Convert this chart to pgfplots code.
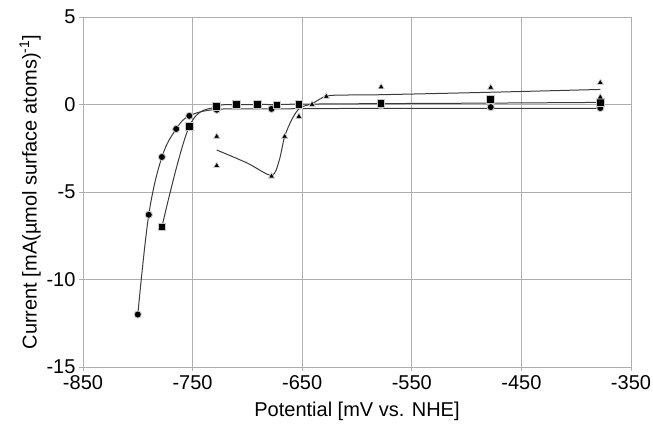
\documentclass[border=0pt]{standalone}
\usepackage{pgfplots}
\pgfplotsset{compat=1.18}
\usepackage{fontspec}
\setmainfont{Liberation Sans}
\definecolor{gridc}{RGB}{175,175,175}
\definecolor{linec}{RGB}{60,60,60}
\begin{document}
\begin{tikzpicture}
\begin{axis}[
  scale only axis, width=548pt, height=350pt,
  xmin=-850, xmax=-350, ymin=-15, ymax=5,
  xtick={-850,-750,-650,-550,-450,-350},
  ytick={-15,-10,-5,0,5},
  grid=major, grid style={gridc, line width=0.8pt},
  axis line style={gridc, line width=0.8pt},
  tick style={gridc, line width=0.8pt},
  tick align=outside, major tick length=4pt,
  xtick pos=bottom, ytick pos=left,
  /pgf/number format/assume math mode=true,
  /pgf/number format/.cd, 1000 sep={}, /pgfplots/.cd,
  ticklabel style={font=\fontsize{20}{22}\selectfont},
  label style={font=\fontsize{20}{22}\selectfont},
  xlabel={Potential [mV vs. NHE]},
  ylabel={Current [mA(µmol surface atoms)\textsuperscript{-1}]},
  xlabel style={yshift=-5pt},
  ylabel style={yshift=-1pt},
  xticklabel style={yshift=-1pt},
  clip=false,
]
% circle series line
\addplot[linec, line width=1pt, smooth, tension=0.6] coordinates {
 (-800,-12) (-790,-6.3) (-778,-3.0) (-765,-1.4) (-753,-0.65) (-728,-0.28) (-678,-0.25) (-578,-0.22) (-478,-0.22) (-378,-0.22)};
% square series line
\addplot[linec, line width=1pt, smooth, tension=0.6] coordinates {
 (-778,-7.0) (-753,-1.25) (-728,-0.12) (-710,-0.02) (-691,0) (-673,0) (-653,0.02) (-578,0.05) (-478,0.08) (-378,0.12)};
% triangle series line
\addplot[linec, line width=1pt, smooth, tension=0.5] coordinates {
 (-728,-2.6) (-700,-3.35) (-678,-4.05) (-671,-3.2) (-666,-1.83) (-659,-0.8) (-652,-0.2) (-641,0.05) (-628,0.48) (-610,0.54) (-578,0.56) (-478,0.7) (-378,0.86)};
% markers
\addplot[only marks, mark=*, mark size=3.6pt, mark options={fill=black, draw=black!22, line width=0.9pt}] coordinates {
 (-800,-12) (-790,-6.3) (-778,-3.0) (-765,-1.4) (-753,-0.65) (-728,-0.3) (-678,-0.25) (-578,-0.05) (-478,-0.15) (-378,-0.2)};
\addplot[only marks, mark=square*, mark size=3.8pt, mark options={fill=black, draw=black!22, line width=0.9pt}] coordinates {
 (-778,-7.0) (-753,-1.25) (-728,-0.1) (-710,0) (-691,0) (-673,-0.03) (-653,0) (-578,0.05) (-478,0.3) (-378,0.12)};
\addplot[only marks, mark=triangle*, mark size=3.6pt, mark options={fill=black, draw=black!18, line width=0.7pt}] coordinates {
 (-728,-1.83) (-728,-3.5) (-678,-4.1) (-666,-1.83) (-653,-0.69) (-641,0) (-628,0.46) (-578,1.0) (-478,0.97) (-378,1.25) (-378,0.42)};
\end{axis}
\pgfresetboundingbox
\path ([shift={(-83pt,-67pt)}]current axis.south west) rectangle ([shift={(22pt,17pt)}]current axis.north east);
\end{tikzpicture}
\end{document}
